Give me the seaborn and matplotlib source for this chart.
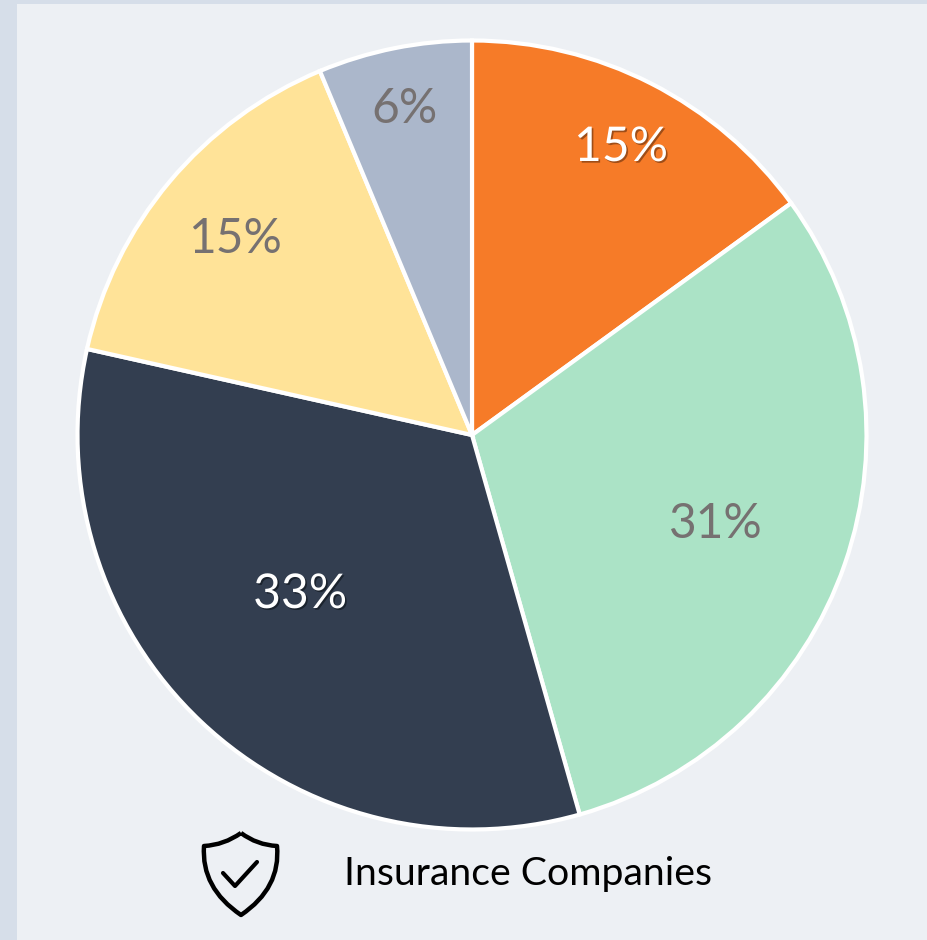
import matplotlib
matplotlib.use("Agg")
import matplotlib.pyplot as plt
import matplotlib.patheffects as pe
from matplotlib.patches import PathPatch, Rectangle
from matplotlib.path import Path
import seaborn as sns

# slices clockwise from 12 o'clock
categories = ["A", "B", "C", "D", "E"]
shares = [15.0, 30.6, 32.9, 15.2, 6.3]
colors = ["#F67B28", "#ABE3C6", "#333E50", "#FFE398", "#ABB7CB"]
label_colors = ["white", "#767171", "white", "#767171", "#767171"]
caption = "Insurance Companies"

W, H = 927, 940
CX, CY, R = 472, 435, 394.5


def px(x, y):
    # picture pixels -> data units of the pie axes
    return (x - CX) / R, (CY - y) / R


sns.set_theme(style="white")
plt.rcParams["font.family"] = ["Lato", "DejaVu Sans"]

fig = plt.figure(figsize=(W / 100, H / 100), dpi=100, facecolor="#D6DEE9")
ax = fig.add_axes([0, 0, 1, 1])

# lighter panel
x0, y0 = px(17, H)
x1, y1 = px(W, 4)
ax.add_patch(Rectangle((x0, y0), x1 - x0, y1 - y0, fc="#EDF0F4", ec="none", zorder=0))

wedges, _, autotexts = ax.pie(
    shares,
    colors=sns.color_palette(colors),
    startangle=90,
    counterclock=False,
    radius=1,
    autopct="%.0f%%",
    wedgeprops={"edgecolor": "white", "linewidth": 3.0},
    frame=True,
)
ax.set_xlim(px(0, 0)[0], px(W, 0)[0])
ax.set_ylim(px(0, H)[1], px(0, 0)[1])
ax.set_aspect("equal")
ax.axis("off")

# labels sit where the original put them, not on a common radius
label_spots = [(621, 147), (716, 524), (300, 594), (235, 239), (405, 109)]
for t, spot, col in zip(autotexts, label_spots, label_colors):
    t.set_position(px(*spot))
    t.set_color(col)
    t.set_fontsize(34.5)
    t.set_ha("center")
    t.set_va("center")
autotexts[0].set_path_effects([pe.withSimplePatchShadow(offset=(1.2, -1.2), shadow_rgbFace="#7A3A10", alpha=0.7)])
autotexts[2].set_path_effects([pe.withSimplePatchShadow(offset=(1.2, -1.2), shadow_rgbFace="#111820", alpha=0.7)])

ax.text(*px(344, 874), caption, fontsize=28.3, color="black", ha="left", va="center")

# shield icon
shield = [
    (Path.MOVETO, (241, 833)),
    (Path.CURVE3, (224, 845)),
    (Path.CURVE3, (204, 846)),
    (Path.CURVE3, (201, 888)),
    (Path.CURVE3, (241, 915)),
    (Path.CURVE3, (281, 888)),
    (Path.CURVE3, (277, 846)),
    (Path.CURVE3, (257, 845)),
    (Path.CURVE3, (241, 833)),
]
codes = [c for c, _ in shield]
verts = [px(*p) for _, p in shield]
ax.add_patch(PathPatch(Path(verts, codes), fc="none", ec="black", lw=3.2, joinstyle="round"))
tick = [px(223, 873), px(235, 886), px(257, 862)]
ax.add_patch(PathPatch(Path(tick), fc="none", ec="black", lw=3.0, capstyle="round", joinstyle="round"))

fig.savefig("out.png", dpi=100, facecolor=fig.get_facecolor())
